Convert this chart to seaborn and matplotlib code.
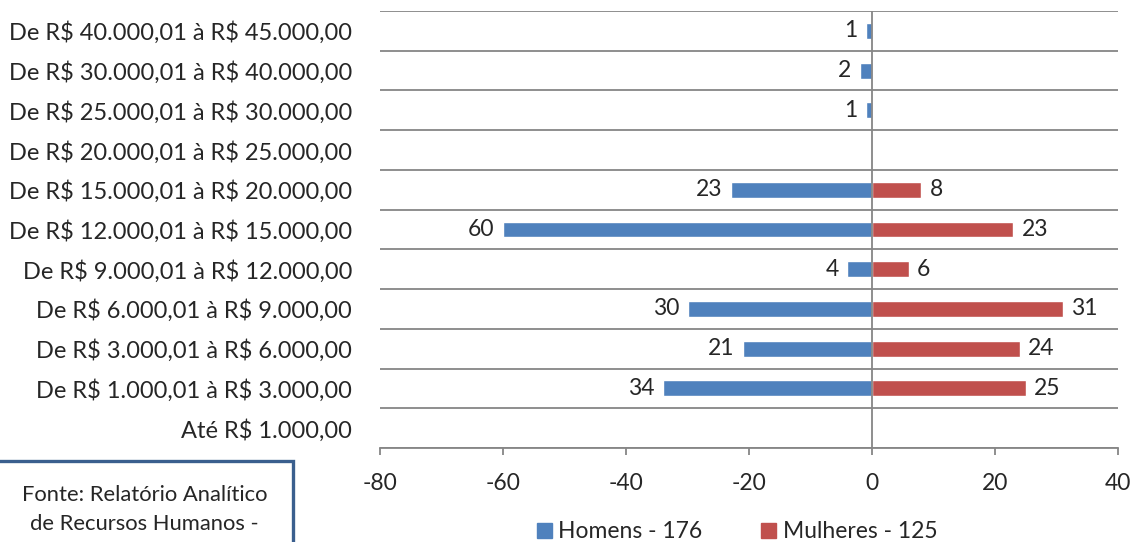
import numpy as np
import pandas as pd
import matplotlib.pyplot as plt
import seaborn as sns
from matplotlib.patches import Rectangle, Patch

faixas = ['De R$ 40.000,01 à R$ 45.000,00',
          'De R$ 30.000,01 à R$ 40.000,00',
          'De R$ 25.000,01 à R$ 30.000,00',
          'De R$ 20.000,01 à R$ 25.000,00',
          'De R$ 15.000,01 à R$ 20.000,00',
          'De R$ 12.000,01 à R$ 15.000,00',
          'De R$ 9.000,01 à R$ 12.000,00',
          'De R$ 6.000,01 à R$ 9.000,00',
          'De R$ 3.000,01 à R$ 6.000,00',
          'De R$ 1.000,01 à R$ 3.000,00',
          'Até R$ 1.000,00']
homens = [1, 2, 1, 0, 23, 60, 4, 30, 21, 34, 0]
mulheres = [0, 0, 0, 0, 8, 23, 6, 31, 24, 25, 0]
legenda = ['Homens - 176', 'Mulheres - 125']
cores = ['#4F81BD', '#C0504D']

df = pd.DataFrame({
    'faixa': faixas * 2,
    'valor': [-v for v in homens] + mulheres,
    'sexo': [legenda[0]] * len(faixas) + [legenda[1]] * len(faixas),
})

sns.set_style('white')
plt.rcParams['font.family'] = ['Lato', 'DejaVu Sans']
plt.rcParams['text.parse_math'] = False
plt.rcParams['axes.unicode_minus'] = False
fs = 16.5

fig = plt.figure(figsize=(11.34, 5.42), dpi=100)
ax = fig.add_axes([0.3351, 0.1734, 0.6508, 0.8063])

sns.barplot(data=df, y='faixa', x='valor', hue='sexo', order=faixas,
            hue_order=legenda, palette=cores, dodge=False, width=0.4,
            orient='h', legend=False, ax=ax, saturation=1)

for cont, vals in zip(ax.containers, [homens, mulheres]):
    ax.bar_label(cont, labels=[str(v) if v else '' for v in vals],
                 padding=6, fontsize=fs)

ax.set_xlim(-80, 40)
ax.set_xticks(np.arange(-80, 41, 20))
ax.set_ylim(len(faixas) - 0.5, -0.5)
ax.set_yticks(np.arange(len(faixas)) + 0.5, minor=True)
ax.grid(True, axis='y', which='minor', color='#868686', lw=1.3)
ax.grid(False, axis='x')
ax.axvline(0, color='#868686', lw=1.3)
ax.axhline(-0.5, color='#868686', lw=1.3)
for s in ['left', 'right', 'top']:
    ax.spines[s].set_visible(False)
ax.spines['bottom'].set_color('#868686')
ax.spines['bottom'].set_linewidth(1.3)
ax.tick_params(axis='x', which='major', bottom=True, length=5, width=1.3,
               color='#868686', labelsize=fs, pad=13)
ax.tick_params(axis='y', which='both', left=False, length=0, labelsize=17, pad=20)
ax.set_xlabel('')
ax.set_ylabel('')

handles = [Patch(color=c) for c in cores]
fig.legend(handles, legenda, loc='center', bbox_to_anchor=(0.650, 0.019),
           ncol=2, frameon=False, fontsize=fs, handlelength=0.65,
           handleheight=0.65, handletextpad=0.3, columnspacing=2.55)

fig.patches.append(Rectangle((-0.01, -0.2), 0.268, 0.349, transform=fig.transFigure,
                             fill=False, edgecolor='#3A5F8E', lw=2.4, clip_on=False))
fig.text(0.1275, 0.086, 'Fonte: Relatório Analítico', ha='center', va='center', fontsize=15.8)
fig.text(0.1275, 0.034, 'de Recursos Humanos -', ha='center', va='center', fontsize=15.8)

fig.savefig('out.png', dpi=100)
